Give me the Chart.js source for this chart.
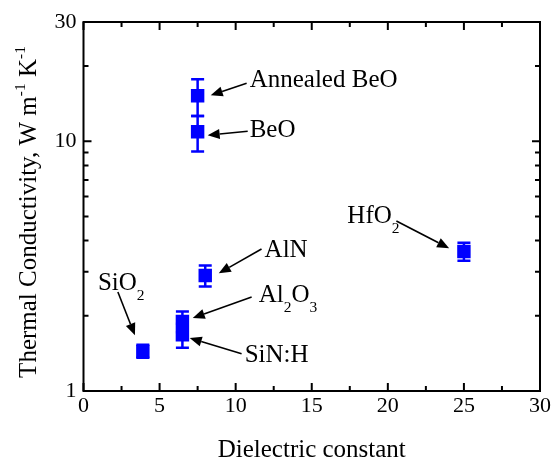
<!DOCTYPE html>
<html>
<head>
<meta charset="utf-8">
<script src="https://cdn.jsdelivr.net/npm/chart.js@4/dist/chart.umd.min.js"></script>
<style>
  body { margin: 0; background: #fff; }
  #wrap { width: 553px; height: 459px; }
</style>
</head>
<body>
<div id="wrap"><canvas id="plot" width="553" height="459"></canvas></div>
<script>
// data
const materials = ["Annealed BeO", "BeO", "AlN", "Al_2O_3", "SiN:H", "SiO_2", "HfO_2"];
const dielectric = [7.5, 7.5, 8.0, 6.5, 6.5, 3.9, 25.0];
const conductivity = [15.2, 10.9, 2.9, 1.9, 1.68, 1.44, 3.62];
const errLow = [12.6, 9.1, 2.62, 1.72, 1.49, 1.36, 3.32];
const errHigh = [17.7, 12.6, 3.18, 2.08, 1.86, 1.53, 3.92];
const xTicks = [0, 5, 10, 15, 20, 25, 30];
const xMinor = [2.5, 7.5, 12.5, 17.5, 22.5, 27.5];
const yTicks = [1, 10, 30];
const yMinor = [2, 3, 4, 5, 6, 7, 8, 9, 20];

// label spots in data units: text start (tx,ty), arrow tail (ax,ay), arrow tip (bx,by)
const notes = [
  {tx: 10.92, ty: 16.44, ax: 10.72, ay: 17.06, bx: 8.36, by: 15.28},
  {tx: 10.92, ty: 10.38, ax: 10.79, ay: 10.96, bx: 8.16, by: 10.57},
  {tx: 11.90, ty: 3.44, ax: 11.70, ay: 3.70, bx: 8.89, by: 2.96},
  {tx: 11.51, ty: 2.27, ax: 11.05, ay: 2.38, bx: 7.18, by: 1.96},
  {tx: 10.59, ty: 1.31, ax: 10.39, ay: 1.41, bx: 6.98, by: 1.63},
  {tx: 0.95, ty: 2.54, ax: 2.26, ay: 2.49, bx: 3.38, by: 1.67},
  {tx: 17.34, ty: 4.70, ax: 20.56, ay: 4.79, bx: 24.03, by: 3.73}
];

const FONT = '"Liberation Serif", "Times New Roman", serif';
const BLUE = '#0000ff';

/* split "Al_2O_3" / "m^{-1}" into normal, sub and sup pieces */
function pieces(str) {
  const out = [];
  let i = 0;
  while (i < str.length) {
    if (str[i] === '_') { out.push([str[i + 1], 1]); i += 2; }
    else if (str[i] === '^') {
      const j = str.indexOf('}', i);
      out.push([str.slice(i + 2, j), 2]); i = j + 1;
    } else {
      let j = i;
      while (j < str.length && str[j] !== '_' && str[j] !== '^') j++;
      out.push([str.slice(i, j), 0]); i = j;
    }
  }
  return out;
}

function richText(ctx, str, x, y, size, align) {
  const bits = pieces(str);
  const fs = b => b[1] ? size * 0.62 : size;
  let w = 0;
  bits.forEach(b => { ctx.font = fs(b) + 'px ' + FONT; w += ctx.measureText(b[0]).width; });
  let cx = align === 'center' ? x - w / 2 : x;
  ctx.textAlign = 'left';
  ctx.textBaseline = 'alphabetic';
  bits.forEach(b => {
    ctx.font = fs(b) + 'px ' + FONT;
    const dy = b[1] === 1 ? size * 0.4 : b[1] === 2 ? -size * 0.45 : 0;
    ctx.fillText(b[0], cx, y + dy);
    cx += ctx.measureText(b[0]).width;
  });
}

function arrow(ctx, x1, y1, x2, y2) {
  const ang = Math.atan2(y2 - y1, x2 - x1);
  const len = 12, half = 5;
  ctx.beginPath();
  ctx.moveTo(x1, y1);
  ctx.lineTo(x2 - Math.cos(ang) * len, y2 - Math.sin(ang) * len);
  ctx.stroke();
  ctx.beginPath();
  ctx.moveTo(x2, y2);
  ctx.lineTo(x2 - Math.cos(ang) * len - Math.sin(ang) * half, y2 - Math.sin(ang) * len + Math.cos(ang) * half);
  ctx.lineTo(x2 - Math.cos(ang) * len + Math.sin(ang) * half, y2 - Math.sin(ang) * len - Math.cos(ang) * half);
  ctx.closePath();
  ctx.fill();
}

const extras = {
  id: 'extras',
  beforeDatasetsDraw(chart) {
    const ctx = chart.ctx, xs = chart.scales.x, ys = chart.scales.y;
    ctx.save();
    ctx.strokeStyle = BLUE;
    ctx.lineWidth = 2.5;
    dielectric.forEach((x, i) => {
      const px = xs.getPixelForValue(x);
      const top = ys.getPixelForValue(errHigh[i]);
      const bot = ys.getPixelForValue(errLow[i]);
      ctx.beginPath();
      ctx.moveTo(px, top); ctx.lineTo(px, bot);
      ctx.moveTo(px - 6.5, top); ctx.lineTo(px + 6.5, top);
      ctx.moveTo(px - 6.5, bot); ctx.lineTo(px + 6.5, bot);
      ctx.stroke();
    });
    ctx.restore();
  },
  afterDraw(chart) {
    const ctx = chart.ctx, xs = chart.scales.x, ys = chart.scales.y;
    const L = xs.getPixelForValue(0), R = xs.getPixelForValue(30);
    const T = ys.getPixelForValue(30), B = ys.getPixelForValue(1);
    ctx.save();
    ctx.strokeStyle = '#000';
    ctx.fillStyle = '#000';
    ctx.lineWidth = 2;
    ctx.strokeRect(L, T, R - L, B - T);

    // inward ticks on all four sides
    ctx.beginPath();
    xTicks.concat(xMinor).forEach(v => {
      const p = xs.getPixelForValue(v);
      const len = xMinor.includes(v) ? 5 : 8;
      ctx.moveTo(p, B); ctx.lineTo(p, B - len);
      ctx.moveTo(p, T); ctx.lineTo(p, T + len);
    });
    yTicks.concat(yMinor).forEach(v => {
      const p = ys.getPixelForValue(v);
      const len = yMinor.includes(v) ? 5 : 8;
      ctx.moveTo(L, p); ctx.lineTo(L + len, p);
      ctx.moveTo(R, p); ctx.lineTo(R - len, p);
    });
    ctx.stroke();

    // axis titles
    richText(ctx, 'Dielectric constant', (L + R) / 2, 457, 25, 'center');
    ctx.save();
    ctx.translate(36, 212);
    ctx.rotate(-Math.PI / 2);
    richText(ctx, 'Thermal Conductivity, W m^{-1} K^{-1}', 0, 0, 25, 'center');
    ctx.restore();

    // labels and arrows
    ctx.lineWidth = 1.6;
    notes.forEach((n, i) => {
      richText(ctx, materials[i], xs.getPixelForValue(n.tx), ys.getPixelForValue(n.ty), 25, 'left');
      arrow(ctx, xs.getPixelForValue(n.ax), ys.getPixelForValue(n.ay),
                 xs.getPixelForValue(n.bx), ys.getPixelForValue(n.by));
    });
    ctx.restore();
  }
};

window.onload = function () {
  new Chart(document.getElementById('plot'), {
    type: 'scatter',
    data: {
      datasets: [{
        label: 'k',
        data: dielectric.map((x, i) => ({x: x, y: conductivity[i]})),
        pointStyle: 'rect',
        pointRadius: 9.5,
        backgroundColor: BLUE,
        borderWidth: 0
      }]
    },
    options: {
      responsive: false,
      animation: false,
      events: [],
      layout: {padding: {top: 22, right: 12, left: 0, bottom: 0}},
      plugins: {legend: {display: false}, tooltip: {enabled: false}},
      scales: {
        x: {
          type: 'linear', min: 0, max: 30,
          grid: {display: false, drawTicks: false},
          border: {display: false},
          afterBuildTicks: s => { s.ticks = xTicks.map(v => ({value: v})); },
          afterFit: s => { s.height = 68; },
          ticks: {color: '#000', padding: 2, maxRotation: 0, font: {family: FONT, size: 22}, callback: v => String(v)}
        },
        y: {
          type: 'logarithmic', min: 1, max: 30,
          grid: {display: false, drawTicks: false},
          border: {display: false},
          afterBuildTicks: s => { s.ticks = yTicks.map(v => ({value: v})); },
          afterFit: s => { s.width = 83.5; },
          ticks: {color: '#000', padding: 7, font: {family: FONT, size: 22}, callback: v => String(v)}
        }
      }
    },
    plugins: [extras]
  });
};
</script>
</body>
</html>
